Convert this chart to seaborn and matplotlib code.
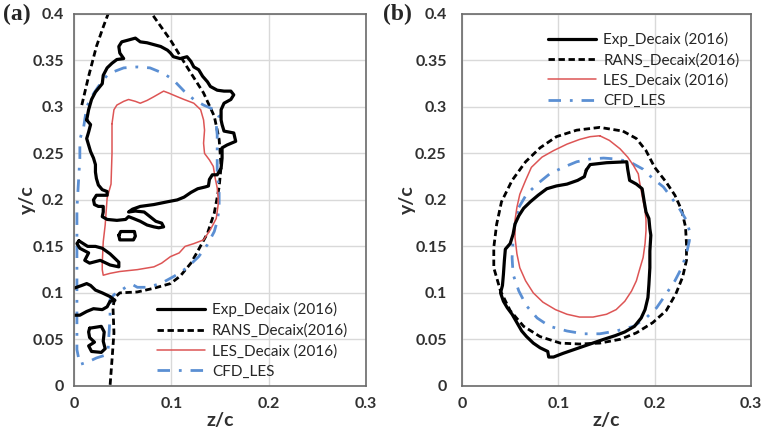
import matplotlib
matplotlib.use("Agg")
import matplotlib.pyplot as plt
import seaborn as sns
import pandas as pd
from matplotlib.lines import Line2D

# ---------------- data: panel (a) ----------------
exp_a_main_z = [0.013,0.015,0.018,0.022,0.029,0.030,0.034,0.039,0.044,0.051,0.047,0.046,0.049,0.056,0.063,0.068,0.075,0.082,0.089,0.096,0.099,0.102,0.109,0.116,0.120,0.123,0.128,0.132,0.137,0.140,0.147,0.154,0.161,0.164,0.161,0.154,0.151,0.151,
                0.152,0.154,0.164,0.166,0.157,0.152,0.152,0.151,0.147,0.142,0.139,0.138,0.135,0.127,0.120,0.113,0.106,0.096,0.082,0.068,0.060,0.056,0.063,0.072,0.078,0.084,0.090,0.092,0.087,0.082,0.075,0.068,0.061,0.056,0.053,0.044,0.034,0.029,0.030,0.030,0.025,0.021,0.020,0.023,0.034,0.034,0.029,0.025,0.023,0.022,0.022,0.020,0.017,0.015,0.013,0.015,0.017,0.013]
exp_a_main_y = [0.286,0.297,0.308,0.316,0.325,0.334,0.342,0.347,0.351,0.352,0.358,0.365,0.370,0.372,0.374,0.370,0.369,0.367,0.365,0.361,0.358,0.354,0.352,0.354,0.349,0.343,0.340,0.333,0.327,0.322,0.318,0.317,0.317,0.313,0.308,0.304,0.297,0.286,
                0.281,0.274,0.272,0.263,0.259,0.256,0.245,0.234,0.227,0.227,0.222,0.215,0.214,0.212,0.208,0.203,0.200,0.198,0.195,0.193,0.190,0.187,0.188,0.187,0.182,0.177,0.175,0.171,0.170,0.171,0.173,0.177,0.180,0.182,0.179,0.178,0.179,0.182,0.187,0.193,0.193,0.195,0.200,0.205,0.205,0.209,0.211,0.216,0.223,0.230,0.238,0.245,0.252,0.259,0.266,0.273,0.281,0.286]
exp_a_pill_z = [0.046,0.048,0.055,0.062,0.063,0.061,0.054,0.047,0.046]
exp_a_pill_y = [0.162,0.166,0.166,0.166,0.161,0.157,0.157,0.157,0.162]
exp_a_fish_z = [0.005,0.014,0.022,0.029,0.037,0.046,0.046,0.037,0.027,0.016,0.011,0.015,0.006,0.003,0.005]
exp_a_fish_y = [0.156,0.150,0.150,0.148,0.142,0.133,0.128,0.130,0.135,0.132,0.135,0.143,0.148,0.153,0.156]
exp_a_blob_z = [0.000,0.008,0.013,0.017,0.022,0.029,0.037,0.042,0.037,0.034,0.029,0.020,0.013,0.006,0.000]
exp_a_blob_y = [0.105,0.108,0.110,0.108,0.103,0.100,0.096,0.092,0.091,0.085,0.082,0.083,0.080,0.076,0.076]
exp_a_ring_z = [0.016,0.028,0.031,0.030,0.032,0.028,0.018,0.015,0.021,0.016,0.015,0.016]
exp_a_ring_y = [0.062,0.064,0.058,0.048,0.040,0.036,0.037,0.043,0.047,0.052,0.058,0.062]

rans_a_z = [0.008,0.015,0.023,0.030,0.035,0.047,0.068,0.080,0.099,0.116,0.133,0.144,0.149,0.151,0.149,0.144,0.137,0.126,0.120,0.109,0.099,0.082,0.065,0.047,0.042,0.040,0.041,0.039,0.037]
rans_a_y = [0.302,0.333,0.365,0.386,0.400,0.412,0.412,0.400,0.372,0.343,0.315,0.290,0.265,0.236,0.214,0.186,0.164,0.143,0.132,0.118,0.110,0.105,0.101,0.100,0.095,0.085,0.057,0.028,0.000]

les_a_z = [0.039,0.041,0.044,0.051,0.056,0.063,0.068,0.075,0.082,0.092,0.097,0.106,0.113,0.123,0.130,0.133,0.134,0.133,0.134,0.139,0.143,0.145,0.147,0.148,0.148,0.146,0.140,0.133,0.123,0.114,0.108,0.099,0.090,0.082,0.065,0.047,0.037,0.030,0.029,0.029,0.030,0.032,0.034,0.038,0.039,0.039]
les_a_y = [0.282,0.297,0.302,0.306,0.308,0.306,0.304,0.307,0.311,0.317,0.315,0.311,0.308,0.304,0.297,0.286,0.275,0.261,0.250,0.243,0.236,0.223,0.213,0.202,0.195,0.180,0.168,0.157,0.153,0.150,0.143,0.139,0.132,0.128,0.125,0.123,0.121,0.119,0.125,0.132,0.155,0.173,0.202,0.217,0.250,0.282]

cfd_a_z = [0.010,0.013,0.018,0.025,0.034,0.041,0.051,0.065,0.078,0.092,0.102,0.113,0.123,0.133,0.144,0.149,0.146,0.147,0.147,0.147,0.147,0.149,0.149,0.147,0.144,0.137,0.128,0.116,0.103,0.089,0.075,0.065,0.060,0.053,0.046,0.041,0.037,0.037,0.036,0.035,0.032,0.023,0.015,0.006,0.003,0.003,0.003,0.003,0.003,0.005,0.006,0.006,0.010]
cfd_a_y = [0.279,0.300,0.311,0.322,0.334,0.338,0.342,0.343,0.342,0.336,0.329,0.317,0.308,0.302,0.297,0.290,0.281,0.270,0.259,0.243,0.227,0.209,0.191,0.177,0.166,0.152,0.139,0.127,0.118,0.110,0.106,0.106,0.109,0.106,0.101,0.098,0.093,0.075,0.057,0.039,0.033,0.030,0.026,0.023,0.039,0.075,0.111,0.155,0.191,0.227,0.245,0.265,0.279]

# ---------------- data: panel (b) ----------------
exp_b_z = [0.129,0.133,0.150,0.171,0.172,0.174,0.181,0.187,0.189,0.191,0.194,0.195,0.196,0.195,0.195,0.194,0.193,0.190,0.186,0.179,0.169,0.159,0.147,0.133,0.119,0.105,0.095,0.090,0.089,0.081,0.074,0.067,0.062,0.057,0.052,0.047,0.043,0.040,0.042,0.043,0.044,0.045,0.050,0.053,0.055,0.059,0.064,0.071,0.079,0.088,0.098,0.109,0.120,0.127,0.129]
exp_b_y = [0.232,0.238,0.240,0.241,0.233,0.221,0.217,0.212,0.199,0.187,0.180,0.169,0.162,0.145,0.127,0.109,0.095,0.082,0.073,0.064,0.058,0.054,0.050,0.045,0.040,0.035,0.031,0.031,0.037,0.041,0.046,0.053,0.059,0.068,0.077,0.084,0.091,0.100,0.108,0.120,0.135,0.147,0.153,0.163,0.174,0.183,0.191,0.198,0.205,0.212,0.215,0.217,0.221,0.225,0.232]

rans_b_z = [0.167,0.181,0.191,0.200,0.212,0.221,0.228,0.232,0.233,0.233,0.229,0.222,0.212,0.198,0.181,0.164,0.143,0.122,0.102,0.081,0.064,0.050,0.040,0.033,0.033,0.036,0.041,0.052,0.066,0.081,0.098,0.119,0.143,0.167]
rans_b_y = [0.274,0.266,0.253,0.235,0.219,0.205,0.189,0.171,0.153,0.135,0.117,0.099,0.081,0.068,0.057,0.050,0.046,0.045,0.046,0.053,0.064,0.081,0.102,0.127,0.149,0.174,0.198,0.221,0.241,0.256,0.268,0.275,0.278,0.274]

les_b_z = [0.143,0.153,0.164,0.172,0.178,0.183,0.184,0.186,0.188,0.190,0.191,0.191,0.190,0.188,0.184,0.181,0.176,0.169,0.160,0.150,0.136,0.122,0.109,0.097,0.084,0.074,0.066,0.060,0.057,0.055,0.055,0.057,0.060,0.066,0.072,0.083,0.095,0.109,0.122,0.133,0.143]
les_b_y = [0.269,0.264,0.255,0.246,0.237,0.228,0.221,0.210,0.199,0.189,0.178,0.167,0.153,0.138,0.124,0.113,0.102,0.091,0.082,0.077,0.074,0.074,0.077,0.082,0.090,0.100,0.113,0.127,0.142,0.160,0.178,0.192,0.206,0.221,0.235,0.246,0.253,0.260,0.265,0.268,0.269]

cfd_b_z = [0.059,0.067,0.078,0.091,0.105,0.119,0.133,0.147,0.160,0.174,0.188,0.198,0.209,0.217,0.226,0.233,0.236,0.236,0.233,0.228,0.221,0.212,0.202,0.191,0.178,0.160,0.143,0.126,0.109,0.091,0.078,0.067,0.059,0.053,0.052,0.053,0.055,0.059]
cfd_b_y = [0.192,0.206,0.217,0.228,0.235,0.241,0.244,0.245,0.244,0.241,0.233,0.223,0.214,0.203,0.190,0.178,0.167,0.156,0.142,0.127,0.113,0.099,0.084,0.073,0.064,0.059,0.056,0.056,0.059,0.064,0.073,0.086,0.102,0.120,0.138,0.156,0.174,0.192]

series_labels = ["Exp_Decaix (2016)", "RANS_Decaix(2016)", "LES_Decaix (2016)", "CFD_LES"]
x_ticks = [0, 0.1, 0.2, 0.3]
x_ticklabels = ["0", "0.1", "0.2", "0.3"]
y_ticks = [0, 0.05, 0.1, 0.15, 0.2, 0.25, 0.3, 0.35, 0.4]
y_ticklabels = ["0", "0.05", "0.1", "0.15", "0.2", "0.25", "0.3", "0.35", "0.4"]

# ---------------- styling ----------------
sns.set_style("whitegrid")
plt.rcParams['font.family'] = ['Lato', 'DejaVu Sans']

STY = {
    "exp": dict(color="black", lw=2.3, ls="-"),
    "rans": dict(color="black", lw=2.0, ls=(0, (2.3, 1.3))),
    "les": dict(color="#dd5555", lw=1.1, ls="-"),
    "cfd": dict(color="#5b8fd3", lw=2.0, ls=(0, (4.5, 3.2, 1.0, 3.2))),
}


def draw(ax, z, y, key):
    st = STY[key]
    df = pd.DataFrame({"z": z, "y": y})
    sns.lineplot(data=df, x="z", y="y", sort=False, estimator=None, ax=ax,
                 color=st["color"], linewidth=st["lw"])
    ln = ax.lines[-1]
    ln.set_linestyle(st["ls"])
    ln.set_solid_joinstyle("round")


fig = plt.figure(figsize=(7.63, 4.36), dpi=100)
ax_a = fig.add_axes([0.097, 0.115, 0.383, 0.853])
ax_b = fig.add_axes([0.6055, 0.115, 0.3788, 0.853])

# panel (a)
draw(ax_a, rans_a_z, rans_a_y, "rans")
draw(ax_a, cfd_a_z, cfd_a_y, "cfd")
draw(ax_a, les_a_z, les_a_y, "les")
draw(ax_a, exp_a_main_z, exp_a_main_y, "exp")
draw(ax_a, exp_a_pill_z, exp_a_pill_y, "exp")
draw(ax_a, exp_a_fish_z, exp_a_fish_y, "exp")
draw(ax_a, exp_a_blob_z, exp_a_blob_y, "exp")
draw(ax_a, exp_a_ring_z, exp_a_ring_y, "exp")

# panel (b)
draw(ax_b, rans_b_z, rans_b_y, "rans")
draw(ax_b, cfd_b_z, cfd_b_y, "cfd")
draw(ax_b, les_b_z, les_b_y, "les")
draw(ax_b, exp_b_z, exp_b_y, "exp")

handles = [Line2D([], [], color=STY[k]["color"], lw=STY[k]["lw"], ls=STY[k]["ls"])
           for k in ["exp", "rans", "les", "cfd"]]

for ax, tag in [(ax_a, "(a)"), (ax_b, "(b)")]:
    ax.set_xlim(0, 0.3)
    ax.set_ylim(0, 0.4)
    ax.set_xticks(x_ticks)
    ax.set_xticklabels(x_ticklabels)
    ax.set_yticks(y_ticks)
    ax.set_yticklabels(y_ticklabels)
    ax.grid(True, color="#d9d9d9", lw=1.0)
    for s in ax.spines.values():
        s.set_color("#6a6a6a")
        s.set_linewidth(1.2)
    ax.tick_params(axis="both", length=0, labelsize=11.5, colors="#303030")
    for lab in ax.get_xticklabels() + ax.get_yticklabels():
        lab.set_fontweight("bold")
    ax.tick_params(axis="x", pad=8)
    ax.set_xlabel("z/c", fontsize=14, fontweight="bold", color="#303030")
    ax.set_ylabel("y/c", fontsize=14, fontweight="bold", color="#303030")
    ax.xaxis.label.set_va("center")
    ax.yaxis.label.set_va("center")
    ax.xaxis.set_label_coords(0.5, -0.094)

ax_a.tick_params(axis="y", pad=7)
ax_b.tick_params(axis="y", pad=11)
ax_a.yaxis.set_label_coords(-0.161, 0.5)
ax_b.yaxis.set_label_coords(-0.19, 0.5)

leg_kw = dict(frameon=False, fontsize=11, handlelength=3.15, handletextpad=0.45,
              labelspacing=0.4, borderpad=0, borderaxespad=0)
ax_a.legend(handles, series_labels, loc="lower left", bbox_to_anchor=(0.284, 0.02), **leg_kw)
ax_b.legend(handles, series_labels, loc="upper left", bbox_to_anchor=(0.298, 0.952), **leg_kw)

fig.text(3 / 763, 1 - 4 / 436, "(a)", family="Liberation Serif", fontweight="bold",
         fontsize=17, va="top", ha="left")
fig.text(383 / 763, 1 - 4 / 436, "(b)", family="Liberation Serif", fontweight="bold",
         fontsize=17, va="top", ha="left")

fig.savefig("out.png", dpi=100)
